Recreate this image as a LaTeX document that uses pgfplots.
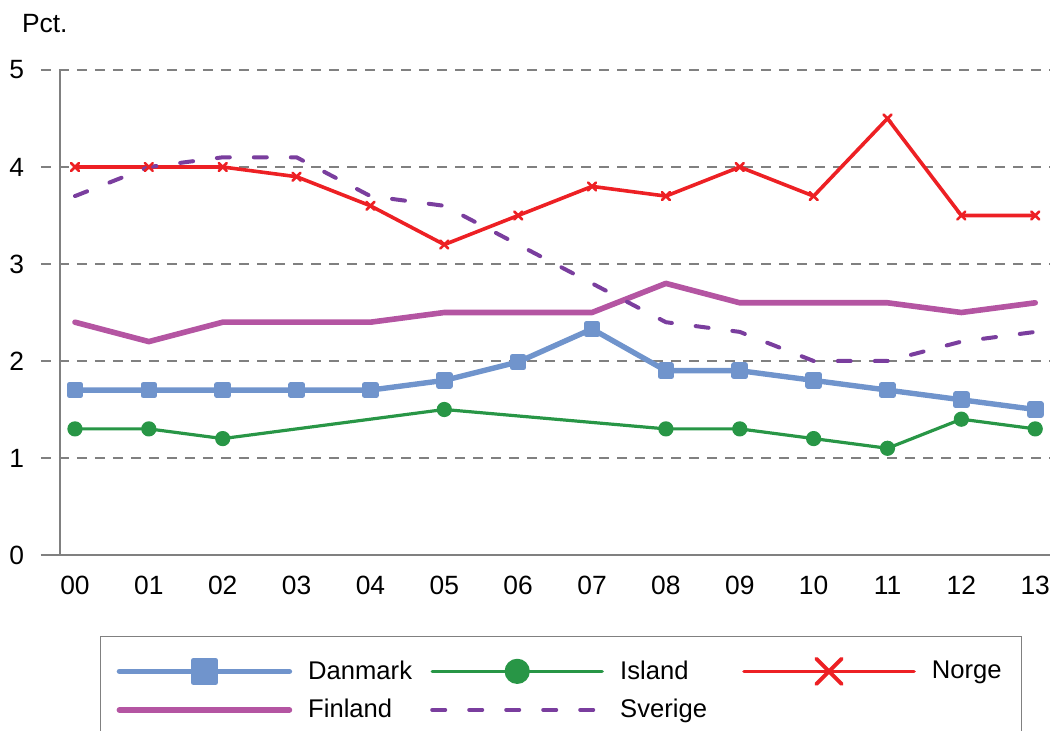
\documentclass[border=0pt]{standalone}
\usepackage{fontspec}
\setmainfont{Liberation Sans}
\usepackage{pgfplots}
\pgfplotsset{compat=1.18}
\definecolor{cDan}{RGB}{112,148,204}
\definecolor{cIsl}{RGB}{40,150,70}
\definecolor{cNor}{RGB}{237,32,36}
\definecolor{cFin}{RGB}{180,85,162}
\definecolor{cSve}{RGB}{122,62,158}
\definecolor{cGrid}{RGB}{128,128,128}
\begin{document}
\begin{tikzpicture}
\begin{axis}[name=ax,
  scale only axis, width=504.5pt, height=242.5pt,
  xmin=-0.46, xmax=13.2, ymin=0, ymax=5,
  axis line style={draw=none},
  xtick={0,...,13},
  xticklabels={00,01,02,03,04,05,06,07,08,09,10,11,12,13},
  ytick={0,...,5},
  major tick length=0pt,
  ymajorgrids,
  grid style={cGrid, line width=1pt, dash pattern=on 5pt off 4pt},
  tick label style={font=\fontsize{13.2}{15}\selectfont},
  xticklabel style={yshift=-7pt},
  yticklabel style={xshift=-5pt},
  /pgf/number format/assume math mode=true,
  clip=false,
  legend columns=3,
  legend cell align=left,
  legend image code/.code={\draw[mark repeat=2,mark phase=2,#1] plot coordinates {(0pt,0pt) (42.5pt,0pt) (85pt,0pt)};},
  legend style={at={(rel axis cs:0.0585,-0.167)}, anchor=north west,
    draw=cGrid, line width=0.6pt,
    font=\fontsize{12.8}{15}\selectfont,
    inner xsep=8pt, inner ysep=10pt,
    row sep=4.5pt,
    /tikz/every even column/.append style={column sep=2pt}},
  every axis plot/.append style={line cap=round, line join=round},
]
\draw[cGrid, line width=1pt] (axis cs:-0.46,0) -- (axis cs:13.2,0);
\draw[cGrid, line width=0.8pt] (axis cs:-0.2,0) -- (axis cs:-0.2,5);

\addplot[cDan, line width=2.7pt, mark=square*, mark size=2.8pt, mark options={solid},
  legend image post style={mark size=5.5pt}] coordinates {
(0,1.7) (1,1.7) (2,1.7) (3,1.7) (4,1.7) (5,1.8) (6,1.99) (7,2.33) (8,1.9) (9,1.9) (10,1.8) (11,1.7) (12,1.6) (13,1.5)};
\addlegendentry{\makebox[63pt][l]{\hspace{6pt}Danmark}}

\addplot[cIsl, line width=1.6pt, mark=*, mark size=3pt,
  legend image post style={mark size=5.5pt}] coordinates {
(0,1.3) (1,1.3) (2,1.2) (5,1.5) (8,1.3) (9,1.3) (10,1.2) (11,1.1) (12,1.4) (13,1.3)};
\addlegendentry{\makebox[63pt][l]{\hspace{6pt}Island}}

\addplot[cNor, line width=1.8pt, mark=x, mark size=2.8pt, mark options={line width=1.3pt},
  legend image post style={mark size=9pt, mark options={line width=1.9pt}}] coordinates {
(0,4.0) (1,4.0) (2,4.0) (3,3.9) (4,3.6) (5,3.2) (6,3.5) (7,3.8) (8,3.7) (9,4.0) (10,3.7) (11,4.5) (12,3.5) (13,3.5)};
\addlegendentry{\hspace{6pt}Norge\hspace{-4.5pt}}

\addplot[cFin, line width=2.8pt] coordinates {
(0,2.4) (1,2.2) (2,2.4) (3,2.4) (4,2.4) (5,2.5) (6,2.5) (7,2.5) (8,2.8) (9,2.6) (10,2.6) (11,2.6) (12,2.5) (13,2.6)};
\addlegendentry{\makebox[63pt][l]{\hspace{6pt}Finland}}

\addplot[cSve, line width=2pt, dash pattern=on 6.5pt off 12pt] coordinates {
(0,3.7) (1,4.0) (2,4.1) (3,4.1) (4,3.7) (5,3.6) (6,3.2) (7,2.8) (8,2.4) (9,2.3) (10,2.0) (11,2.0) (12,2.2) (13,2.3)};
\addlegendentry{\makebox[63pt][l]{\hspace{6pt}Sverige}}
\end{axis}
\node[anchor=base west, font=\fontsize{13.2}{15}\selectfont] at ([shift={(-13pt,18.5pt)}]ax.north west) {Pct.};
\pgfresetboundingbox
\path[use as bounding box] ([shift={(-20.5pt,-88pt)}]ax.south west) rectangle ++(525.5pt,365.5pt);
\end{tikzpicture}
\end{document}
